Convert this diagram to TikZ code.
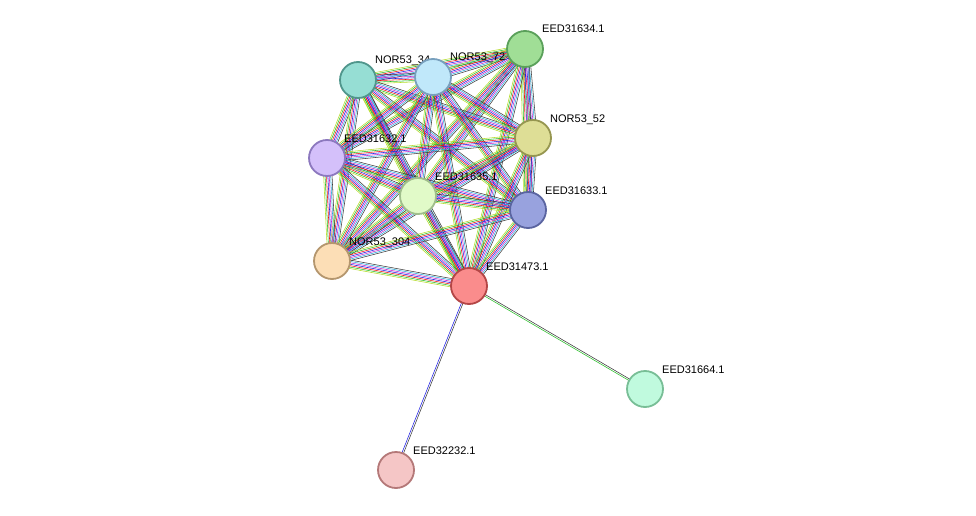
\documentclass[tikz,border=0pt]{standalone}
\usepackage{fontspec}
\setmainfont{Liberation Sans}
\usetikzlibrary{calc, backgrounds}

\definecolor{cgreen}{RGB}{40,190,40}
\definecolor{cred}{RGB}{240,20,20}
\definecolor{cblue}{RGB}{30,30,230}
\definecolor{cmag}{RGB}{200,40,200}
\definecolor{ccyan}{RGB}{40,170,220}
\definecolor{cyel}{RGB}{180,220,40}
\definecolor{cdark}{RGB}{60,60,60}

\tikzset{
  prot/.style = {draw, circle, line width=1.8pt, minimum size=36pt, inner sep=0pt},
  lbl/.style = {font=\fontsize{11}{12}\selectfont, anchor=base west, inner sep=0pt},
  link/.style = {line width=0.55pt}
}

\newcommand{\prot}[5]{%
  \definecolor{f#1}{RGB}{#4}\definecolor{d#1}{RGB}{#5}%
  \node[prot, draw=d#1, fill=f#1] (#1) at (#2) {};
  \node[lbl] at ($(#1.center)+(17,-16)$) {#3};}

\newcommand{\links}[3]{%
  \foreach \c [count=\i] in {#3} {
    \pgfmathsetmacro{\off}{(\i-4)*1.4}
    \draw[link, \c] ($(#1.center)!\off pt!90:(#2.center)$) -- ($(#2.center)!\off pt!-90:(#1.center)$);
  }}

\begin{document}
\begin{tikzpicture}[x=1pt, y=-1pt]
\useasboundingbox (0,0) rectangle (976,516);

% proteins
\prot{p634}{525,49}{EED31634.1}{160,222,150}{90,160,90}
\prot{p34}{358,80}{NOR53\_34}{150,222,212}{80,150,140}
\prot{p72}{433,77}{NOR53\_72}{192,232,250}{120,160,190}
\prot{p52}{533,138}{NOR53\_52}{222,222,150}{150,150,80}
\prot{p632}{327,158}{EED31632.1}{212,192,250}{140,120,190}
\prot{p635}{418,196}{EED31635.1}{225,250,200}{160,190,140}
\prot{p633}{528,210}{EED31633.1}{152,162,222}{90,100,160}
\prot{p304}{332,261}{NOR53\_304}{252,222,182}{180,150,110}
\prot{p473}{469,286}{EED31473.1}{250,140,140}{180,70,70}
\prot{p664}{645,389}{EED31664.1}{192,250,222}{120,190,150}
\prot{p232}{396,470}{EED32232.1}{245,198,198}{180,120,120}

% evidence lines
\begin{scope}[on background layer]
\foreach \a [count=\i] in {p634,p34,p72,p52,p632,p635,p633,p304,p473} {
  \foreach \b [count=\j] in {p634,p34,p72,p52,p632,p635,p633,p304,p473} {
    \ifnum\j>\i
      \links{\a}{\b}{cyel,cgreen,cred,cblue,cmag,ccyan,cdark}
    \fi
  }
}
\draw[link, cdark] ($(p473.center)!0.8pt!90:(p232.center)$) -- ($(p232.center)!0.8pt!-90:(p473.center)$);
\draw[link, cblue] ($(p473.center)!-0.8pt!90:(p232.center)$) -- ($(p232.center)!-0.8pt!-90:(p473.center)$);
\draw[link, cdark] ($(p473.center)!0.8pt!90:(p664.center)$) -- ($(p664.center)!0.8pt!-90:(p473.center)$);
\draw[link, cgreen] ($(p473.center)!-0.8pt!90:(p664.center)$) -- ($(p664.center)!-0.8pt!-90:(p473.center)$);
\end{scope}
\end{tikzpicture}
\end{document}
